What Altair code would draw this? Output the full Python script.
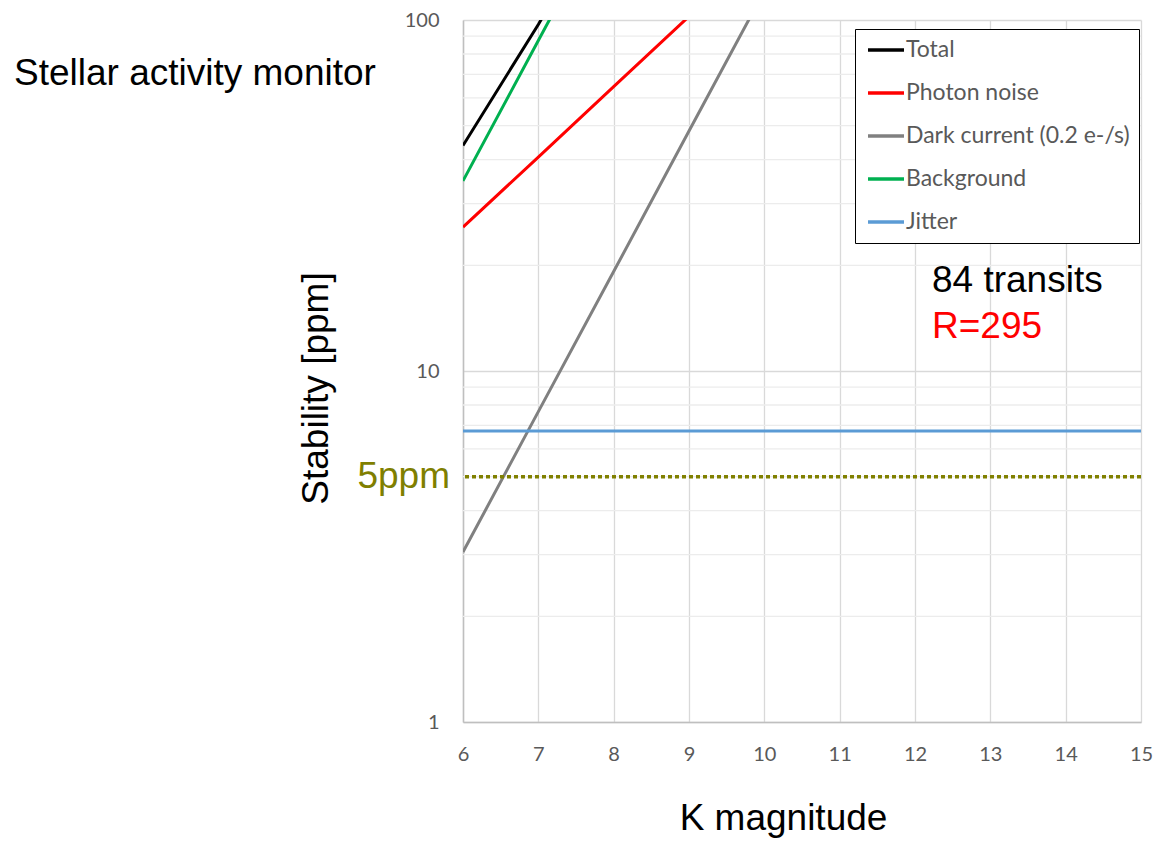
import altair as alt
import pandas as pd

# Noise budget versus K magnitude (ppm)
mag_total = [6, 7, 8]
total = [43.9, 97.1, 229.0]

mag_photon = [6, 7, 8, 9]
photon = [25.7, 40.7, 64.6, 102.4]

mag_dark = [6, 7, 8, 9, 10]
dark = [3.05, 7.66, 19.2, 48.3, 121.0]

mag_background = [6, 7, 8]
background = [34.8, 87.4, 219.0]

mag_jitter = [6, 15]
jitter = [6.75, 6.75]

requirement_ppm = [5]

series_names = ["Total", "Photon noise", "Dark current (0.2 e-/s)", "Background", "Jitter"]
series_colors = ["#000000", "#ff0000", "#808080", "#00b050", "#5b9bd5"]

x_ticks = [6, 7, 8, 9, 10, 11, 12, 13, 14, 15]
y_ticks = [1, 10, 100]
minor_grid = [2, 3, 4, 5, 6, 7, 8, 9, 20, 30, 40, 50, 60, 70, 80, 90]

frames = []
for name, mags, vals in [
    ("Total", mag_total, total),
    ("Photon noise", mag_photon, photon),
    ("Dark current (0.2 e-/s)", mag_dark, dark),
    ("Background", mag_background, background),
    ("Jitter", mag_jitter, jitter),
]:
    frames.append(pd.DataFrame({"mag": mags, "ppm": vals, "series": name}))
curves = pd.concat(frames, ignore_index=True)

W, H = 678, 702

x_scale = alt.Scale(domain=[6, 15], nice=False, zero=False)
y_scale = alt.Scale(type="log", domain=[1, 100], nice=False)

x_axis = alt.Axis(
    values=x_ticks, title="K magnitude", grid=True, gridColor="#d9d9d9", gridWidth=1.3,
    domainColor="#bfbfbf", domainWidth=1.5, ticks=False, labelFont="Lato", labelFontSize=20,
    labelColor="#595959", labelPadding=22, labelFlush=False, titleFont="Liberation Sans",
    titleFontSize=37, titleFontWeight="normal", titleColor="#000000", titleX=320, titleY=107,
    titleBaseline="alphabetic", titleAnchor="start", titleAlign="center",
)
y_axis = alt.Axis(
    values=y_ticks, format="d", title="Stability [ppm]", grid=True, gridColor="#d9d9d9",
    gridWidth=1.3, domainColor="#bfbfbf", domainWidth=1.5, ticks=False, labelFont="Lato",
    labelFontSize=20, labelColor="#595959", labelPadding=24, labelFlush=False,
    titleFont="Liberation Sans", titleFontSize=37, titleFontWeight="normal",
    titleColor="#000000", titleAngle=270, titleX=-136, titleY=368,
    titleBaseline="alphabetic", titleAlign="center",
)

minor = alt.Chart(pd.DataFrame({"ppm": minor_grid})).mark_rule(
    color="#ececec", strokeWidth=1.3
).encode(y=alt.Y("ppm:Q", scale=y_scale, axis=y_axis))

# Legend keys: a short line drawn off-centre so it sits flush with the frame
legend = alt.Legend(
    orient="none", legendX=392, legendY=9, title=None, symbolType="M-0.8,0H2.8",
    symbolSize=400, symbolStrokeWidth=3.5, labelFont="Lato", labelFontSize=23,
    labelColor="#595959", labelOffset=18, rowPadding=19, padding=9,
    strokeColor="#000000", fillColor="#ffffff", labelLimit=400,
)

lines = alt.Chart(curves).mark_line(strokeWidth=3, clip=True).encode(
    x=alt.X("mag:Q", scale=x_scale, axis=x_axis),
    y=alt.Y("ppm:Q", scale=y_scale, axis=y_axis),
    color=alt.Color(
        "series:N",
        scale=alt.Scale(domain=series_names, range=series_colors),
        sort=series_names,
        legend=legend,
    ),
    detail="series:N",
)

req_line = alt.Chart(pd.DataFrame({"ppm": requirement_ppm})).mark_rule(
    color="#808000", strokeWidth=3.5, strokeDash=[4, 3]
).encode(y=alt.Y("ppm:Q", scale=y_scale))

req_label = alt.Chart(pd.DataFrame({"ppm": requirement_ppm, "t": ["5ppm"]})).mark_text(
    font="Liberation Sans", fontSize=37, color="#7f7f00", align="right",
    baseline="alphabetic", dy=11,
).encode(x=alt.value(-13), y=alt.Y("ppm:Q", scale=y_scale), text="t:N")


def note(text, x, y, color):
    return alt.Chart(pd.DataFrame({"t": [text]})).mark_text(
        font="Liberation Sans", fontSize=37, color=color, align="left", baseline="alphabetic"
    ).encode(x=alt.value(x), y=alt.value(y), text="t:N")


title = note("Stellar activity monitor", -449, 65, "#000000")
transits = note("84 transits", 469, 272, "#000000")
resolution = note("R=295", 469, 318, "#ff0000")

chart = alt.layer(
    minor, lines, req_line, req_label, title, transits, resolution
).properties(
    width=W, height=H,
    padding={"left": 463, "top": 20, "right": 15, "bottom": 119},
    autosize=alt.AutoSizeParams(type="none"),
).configure_view(stroke=None)

chart.save("out.html", embed_options={"renderer": "svg", "actions": False})
